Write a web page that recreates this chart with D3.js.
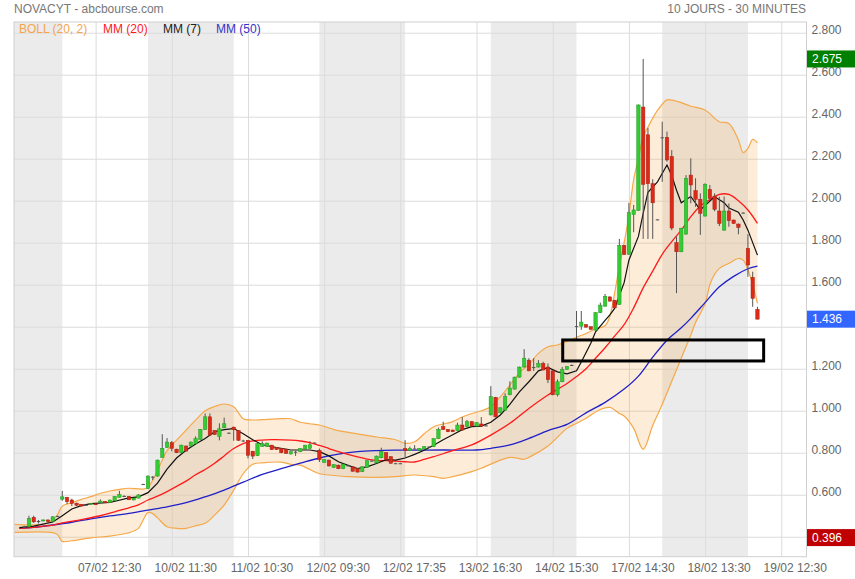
<!DOCTYPE html>
<html><head><meta charset="utf-8">
<script src="https://cdn.jsdelivr.net/npm/d3@7"></script>
<style>body{margin:0;background:#fff;} svg text{font-family:"Liberation Sans",Arial,sans-serif;}</style>
</head><body><svg id="c" width="855" height="579"></svg>
<script>
// ---------- DATA ----------
const dayLabels = ["06/02","07/02","10/02","11/02","12/02","13/02","14/02","17/02","18/02","19/02"];
const slotTimes = ["09:00","09:30","10:00","10:30","11:00","11:30","12:00","12:30","13:00","13:30","14:00","14:30","15:00","15:30","16:00","16:30","17:00","17:35"];
const firstBarSlot = 8; // first bar of 06/02 is the 13:00 slot
const tickBars = [17,33,49,65,81,97,113,129,145,161];
const tickLabels = ["07/02 12:30","10/02 11:30","11/02 10:30","12/02 09:30","12/02 17:35","13/02 16:30","14/02 15:30","17/02 14:30","18/02 13:30","19/02 12:30"];
const yTicks = [0.4,0.6,0.8,1.0,1.2,1.4,1.6,1.8,2.0,2.2,2.4,2.6,2.8];

const open = [null,null,0.448,0.448,0.492,0.475,0.475,0.480,0.473,0.499,
0.579,0.588,0.575,0.560,0.554,0.552,0.554,0.557,0.562,0.568,
0.564,0.571,0.588,0.594,0.592,0.575,0.584,0.651,0.630,0.686,
0.689,0.778,0.825,0.848,0.817,0.800,0.832,0.832,0.843,0.864,
0.911,0.971,0.906,0.878,0.919,0.895,0.922,0.906,0.858,0.859,
0.807,0.786,0.830,0.830,0.836,0.825,0.820,0.817,0.794,0.805,
0.805,0.818,0.821,0.848,0.811,0.754,0.765,0.730,0.741,0.724,
0.740,0.733,0.724,0.710,0.730,0.762,0.752,0.776,0.800,0.781,
0.750,0.750,0.820,0.810,0.820,0.812,0.818,0.829,0.829,0.867,
0.924,0.911,0.908,0.905,0.932,0.924,0.948,0.927,0.937,0.930,
0.980,1.064,0.990,1.003,1.076,1.103,1.160,1.208,1.241,1.208,
1.208,1.225,1.208,1.190,1.076,1.138,1.197,1.218,1.403,1.403,
1.410,1.400,1.384,1.467,1.498,1.542,1.526,1.506,1.787,1.745,
1.935,1.954,2.446,2.314,2.081,1.911,2.302,2.302,2.210,1.800,
1.757,1.841,2.122,2.048,2.007,1.927,2.054,2.022,1.951,1.860,
1.951,1.908,1.889,1.943,1.773,1.635,1.483];
const high = [null,null,0.452,0.500,0.500,0.480,0.482,0.482,0.497,0.500,
0.618,0.590,0.581,0.562,0.556,0.554,0.560,0.558,0.578,0.569,
0.576,0.593,0.619,0.598,0.593,0.585,0.603,0.652,0.692,0.689,
0.767,0.888,0.870,0.856,0.819,0.838,0.834,0.853,0.878,0.913,
0.987,0.987,0.908,0.940,0.967,0.897,0.924,0.908,0.862,0.861,
0.809,0.845,0.855,0.848,0.838,0.827,0.822,0.819,0.807,0.810,
0.822,0.838,0.855,0.850,0.820,0.769,0.767,0.745,0.743,0.748,
0.744,0.735,0.726,0.735,0.764,0.764,0.786,0.824,0.802,0.783,
0.752,0.752,0.860,0.829,0.836,0.822,0.831,0.831,0.869,0.920,
0.948,0.913,0.910,0.943,0.970,0.956,0.950,0.945,0.970,0.932,
1.117,1.066,1.016,1.083,1.140,1.162,1.210,1.293,1.250,1.250,
1.241,1.233,1.225,1.192,1.149,1.208,1.212,1.220,1.475,1.475,
1.412,1.402,1.469,1.515,1.556,1.544,1.528,1.818,1.789,1.990,
1.980,2.458,2.675,2.347,2.102,1.913,2.376,2.329,2.241,1.830,
1.871,2.122,2.202,2.107,2.035,2.083,2.075,2.035,2.019,2.020,
1.987,1.910,1.891,1.945,1.841,1.662,1.495];
const low = [null,null,0.444,0.445,0.466,0.463,0.473,0.470,0.472,0.498,
0.571,0.556,0.546,0.547,0.546,0.550,0.553,0.553,0.561,0.561,
0.563,0.570,0.587,0.593,0.575,0.574,0.583,0.650,0.628,0.670,
0.686,0.776,0.823,0.807,0.798,0.798,0.806,0.830,0.841,0.862,
0.909,0.882,0.885,0.859,0.917,0.893,0.857,0.857,0.852,0.773,
0.770,0.784,0.828,0.828,0.813,0.813,0.798,0.795,0.792,0.785,
0.803,0.816,0.819,0.846,0.756,0.752,0.735,0.728,0.722,0.722,
0.736,0.710,0.706,0.708,0.728,0.760,0.750,0.774,0.765,0.748,
0.748,0.748,0.775,0.808,0.818,0.810,0.816,0.827,0.827,0.865,
0.909,0.898,0.898,0.903,0.906,0.922,0.925,0.925,0.925,0.928,
0.978,0.969,0.988,1.001,1.074,1.101,1.158,1.206,1.188,1.190,
1.206,1.192,1.132,1.074,1.068,1.136,1.195,1.216,1.340,1.385,
1.396,1.386,1.382,1.465,1.496,1.520,1.488,1.504,1.742,1.743,
1.850,1.952,1.818,1.818,1.818,1.909,2.090,2.186,1.860,1.560,
1.755,1.839,1.988,1.971,1.837,1.925,2.009,1.950,1.879,1.858,
1.876,1.890,1.840,1.941,1.638,1.495,1.436];
const close = [null,null,0.448,0.488,0.471,0.475,0.480,0.472,0.495,0.499,
0.590,0.567,0.559,0.550,0.546,0.552,0.559,0.554,0.570,0.562,
0.575,0.592,0.600,0.594,0.576,0.584,0.599,0.651,0.689,0.686,
0.765,0.821,0.851,0.821,0.800,0.836,0.808,0.851,0.867,0.911,
0.971,0.884,0.887,0.914,0.938,0.895,0.911,0.859,0.858,0.788,
0.784,0.843,0.843,0.846,0.815,0.815,0.800,0.797,0.805,0.805,
0.820,0.836,0.838,0.848,0.767,0.767,0.737,0.743,0.724,0.746,
0.740,0.712,0.708,0.733,0.762,0.762,0.784,0.805,0.767,0.750,
0.750,0.750,0.810,0.820,0.820,0.820,0.829,0.829,0.867,0.911,
0.911,0.900,0.900,0.932,0.908,0.948,0.927,0.943,0.927,0.930,
1.067,0.971,1.014,1.067,1.108,1.160,1.208,1.250,1.190,1.208,
1.225,1.194,1.148,1.076,1.138,1.197,1.210,1.218,1.403,1.422,
1.398,1.388,1.467,1.503,1.545,1.522,1.490,1.787,1.744,1.943,
1.956,2.456,2.078,2.081,1.990,1.911,2.302,2.194,1.870,1.757,
1.869,2.107,2.075,2.007,1.940,2.078,2.011,1.959,1.892,1.951,
1.905,1.892,1.873,1.943,1.694,1.535,1.436];

// indicator values: [bar index, value]
const mm7 = [[1,0.443],[4,0.451],[8,0.47],[10,0.50],[12,0.532],[14,0.548],[16,0.558],[20,0.563],[24,0.585],[26,0.59],[28,0.61],[30,0.655],[32,0.722],[34,0.775],[36,0.812],[38,0.842],[40,0.868],[42,0.9],[44,0.91],[46,0.915],[48,0.89],[50,0.862],[52,0.838],[55,0.825],[58,0.813],[62,0.813],[64,0.805],[66,0.785],[68,0.757],[70,0.74],[72,0.725],[74,0.733],[76,0.749],[78,0.767],[80,0.765],[82,0.775],[84,0.792],[86,0.812],[88,0.836],[90,0.862],[92,0.886],[94,0.91],[96,0.924],[98,0.927],[100,0.945],[102,0.98],[104,1.03],[106,1.09],[108,1.138],[110,1.19],[112,1.206],[114,1.185],[116,1.176],[118,1.19],[119,1.232],[121,1.321],[122,1.376],[124,1.43],[125,1.456],[126,1.487],[128,1.61],[129,1.717],[131,1.83],[132,1.94],[133,2.04],[135,2.09],[137,2.17],[138,2.12],[139,2.05],[140,1.99],[142,2.02],[144,1.956],[147,2.019],[149,1.99],[150,1.965],[152,1.945],[153,1.908],[154,1.86],[156,1.741]];
const mm20 = [[1,0.44],[4,0.445],[8,0.455],[10,0.466],[14,0.482],[18,0.5],[21,0.519],[24,0.538],[26,0.552],[28,0.575],[30,0.593],[32,0.615],[34,0.64],[36,0.665],[38,0.695],[40,0.72],[42,0.75],[44,0.785],[46,0.82],[48,0.843],[50,0.856],[54,0.862],[58,0.86],[60,0.856],[62,0.848],[64,0.835],[66,0.82],[68,0.805],[70,0.792],[72,0.78],[74,0.77],[76,0.764],[78,0.762],[80,0.76],[82,0.757],[84,0.756],[86,0.768],[88,0.781],[92,0.81],[96,0.837],[100,0.884],[104,0.94],[108,1.011],[112,1.075],[116,1.13],[118,1.163],[120,1.2],[122,1.25],[124,1.30],[126,1.355],[128,1.41],[130,1.49],[132,1.585],[134,1.665],[136,1.745],[138,1.805],[140,1.86],[142,1.924],[144,1.975],[146,2.005],[148,2.03],[150,2.03],[152,2.0],[154,1.956],[156,1.892]];
const mm50 = [[1,0.44],[4,0.445],[8,0.456],[12,0.469],[16,0.485],[20,0.499],[24,0.511],[28,0.527],[32,0.542],[36,0.562],[40,0.59],[44,0.622],[48,0.66],[52,0.697],[56,0.724],[60,0.75],[64,0.775],[68,0.793],[72,0.805],[76,0.81],[80,0.812],[90,0.813],[97,0.813],[100,0.821],[104,0.837],[108,0.868],[112,0.905],[116,0.935],[120,0.99],[124,1.04],[128,1.103],[131,1.165],[134,1.255],[137,1.336],[140,1.395],[142,1.44],[145,1.515],[148,1.59],[151,1.64],[154,1.676],[156,1.689]];
const bollUp = [[0,0.459],[6,0.46],[8,0.48],[9,0.505],[10,0.546],[12,0.562],[14,0.578],[16,0.591],[18,0.607],[20,0.618],[22,0.626],[24,0.631],[27,0.627],[28,0.635],[29,0.67],[30,0.715],[31,0.765],[32,0.81],[34,0.86],[36,0.908],[38,0.955],[40,1.0],[42,1.02],[44,1.032],[46,1.019],[47,0.99],[48,0.962],[50,0.956],[52,0.958],[56,0.962],[58,0.962],[60,0.945],[62,0.938],[64,0.932],[68,0.905],[72,0.89],[76,0.875],[80,0.862],[82,0.845],[84,0.852],[86,0.89],[88,0.924],[92,0.948],[94,0.97],[96,0.987],[98,1.0],[100,1.019],[102,1.067],[104,1.122],[106,1.18],[107,1.202],[108,1.22],[110,1.273],[112,1.305],[114,1.313],[116,1.33],[118,1.35],[120,1.368],[122,1.39],[124,1.405],[125,1.45],[126,1.56],[127,1.69],[128,1.8],[129,1.93],[130,2.1],[131,2.2],[132,2.305],[133,2.35],[135,2.43],[137,2.48],[138,2.479],[140,2.467],[142,2.45],[145,2.432],[148,2.376],[150,2.368],[152,2.289],[153,2.229],[154,2.249],[155,2.292],[156,2.276]];
const bollLow = [[0,0.421],[8,0.42],[9,0.41],[10,0.378],[12,0.381],[16,0.395],[20,0.403],[24,0.419],[26,0.44],[27,0.48],[28,0.515],[29,0.51],[30,0.49],[32,0.448],[34,0.44],[36,0.44],[38,0.452],[40,0.464],[42,0.503],[44,0.551],[46,0.622],[48,0.7],[50,0.745],[52,0.752],[56,0.755],[58,0.745],[60,0.741],[62,0.72],[64,0.7],[66,0.694],[70,0.686],[76,0.683],[80,0.686],[84,0.694],[88,0.686],[90,0.678],[92,0.686],[96,0.71],[98,0.726],[100,0.746],[104,0.778],[107,0.769],[108,0.778],[112,0.832],[116,0.916],[118,0.94],[120,0.964],[123,1.006],[125,1.016],[127,0.987],[128,0.975],[130,0.916],[132,0.816],[134,0.93],[136,1.03],[138,1.14],[140,1.25],[142,1.36],[143,1.42],[145,1.511],[146,1.6],[147,1.65],[148,1.678],[150,1.702],[152,1.725],[153,1.717],[154,1.67],[155,1.6],[156,1.511]];

const priceTags = [2.675, 1.436, 0.396];
const tagColors = ["#008000", "#3366ff", "#c00000"];
const boxBars = [115.1, 157.3];
const boxVals = [1.237, 1.337];

// ---------- CHART ----------
const plot = {left:14, right:806.5, top:22, bottom:556.7};
const x = d3.scaleLinear().domain([-0.14, 166.3]).range([plot.left, plot.right]);
const y = d3.scaleLinear().domain([0.305, 2.851]).range([plot.bottom, plot.top]);
const svg = d3.select("#c");

svg.append("defs").append("clipPath").attr("id","clip")
  .append("rect").attr("x",plot.left).attr("y",plot.top)
  .attr("width",plot.right-plot.left).attr("height",plot.bottom-plot.top);

// alternate day shading
const barsPerDay = slotTimes.length;
dayLabels.forEach((d,k)=>{
  if(k%2!==0) return;
  const s = k*barsPerDay - firstBarSlot;
  const x0 = Math.max(plot.left, x(s)), x1 = Math.min(plot.right, x(s+barsPerDay));
  svg.append("rect").attr("x",x0).attr("y",plot.top).attr("width",x1-x0)
    .attr("height",plot.bottom-plot.top).attr("fill","#ebebeb");
});

// tick labels fully hidden under a price tag are not drawn (as in the original)
const hidden = v => priceTags.slice(1).some(p => Math.abs(y(p) - (y(v)-3)) < 6);

// grid via axes
const gy = svg.append("g").attr("transform",`translate(${plot.right},0)`)
  .call(d3.axisRight(y).tickValues(yTicks).tickSize(-(plot.right-plot.left)).tickPadding(5)
    .tickFormat(v => hidden(v) ? "" : d3.format(".3f")(v)));
gy.select(".domain").remove();
gy.selectAll("line").attr("stroke","#dcdcdc");
gy.selectAll("text").attr("fill","#666").attr("font-size",12).attr("y",-3);

const gx = svg.append("g").attr("transform",`translate(0,${plot.bottom})`)
  .call(d3.axisBottom(x).tickValues(tickBars).tickSize(-(plot.bottom-plot.top)).tickPadding(7).tickFormat((d,i)=>tickLabels[i]));
gx.select(".domain").remove();
gx.selectAll("line").attr("stroke","#dcdcdc");
gx.selectAll("text").attr("fill","#666").attr("font-size",12).attr("dx",13.5);

// frame
svg.append("rect").attr("x",plot.left).attr("y",plot.top).attr("width",plot.right-plot.left)
  .attr("height",plot.bottom-plot.top).attr("fill","none").attr("stroke","#d0d0d0");

const g = svg.append("g").attr("clip-path","url(#clip)");
const smooth = d3.line().x(d=>x(d[0])).y(d=>y(d[1])).curve(d3.curveCatmullRom);
const straight = d3.line().x(d=>x(d[0])).y(d=>y(d[1]));

// Bollinger fill
const upPath = smooth(bollUp);
const lowRev = smooth(bollLow.slice().reverse()).replace(/^M/,"L");
g.append("path").attr("d", upPath + lowRev + "Z").attr("fill","rgba(240,160,60,0.2)").attr("stroke","none");
g.append("path").attr("d", smooth(bollUp)).attr("fill","none").attr("stroke","#f5a94a").attr("stroke-width",1.2);
g.append("path").attr("d", smooth(bollLow)).attr("fill","none").attr("stroke","#f5a94a").attr("stroke-width",1.2);

g.append("path").attr("d", smooth(mm50)).attr("fill","none").attr("stroke","#2020c8").attr("stroke-width",1.3);
g.append("path").attr("d", smooth(mm20)).attr("fill","none").attr("stroke","#ff1a1a").attr("stroke-width",1.3);
g.append("path").attr("d", straight(mm7)).attr("fill","none").attr("stroke","#111").attr("stroke-width",1.2);

// candles
const bars = d3.range(open.length).filter(i=>open[i]!==null)
  .map(i=>({i, o:open[i], h:high[i], l:low[i], c:close[i]}));
const cg = g.append("g");
cg.selectAll("line.wick").data(bars).join("line").attr("class","wick")
  .attr("x1",d=>x(d.i)).attr("x2",d=>x(d.i)).attr("y1",d=>y(d.h)).attr("y2",d=>y(d.l))
  .attr("stroke","#555").attr("stroke-width",1);
cg.selectAll("rect.body").data(bars).join("rect").attr("class","body")
  .attr("x",d=>x(d.i)-1.7).attr("width",3.4)
  .attr("y",d=>y(Math.max(d.o,d.c)))
  .attr("height",d=>Math.max(1, Math.abs(y(d.o)-y(d.c))))
  .attr("fill",d=>d.c>d.o?"#33cc33":(d.c<d.o?"#dd2a18":"#555"))
  .attr("stroke",d=>d.c>d.o?"#229922":(d.c<d.o?"#a81e10":"none"))
  .attr("stroke-width",0.5);

// annotation box
svg.append("rect").attr("x",x(boxBars[0])).attr("y",y(boxVals[1]))
  .attr("width",x(boxBars[1])-x(boxBars[0])).attr("height",y(boxVals[0])-y(boxVals[1]))
  .attr("fill","none").attr("stroke","#000").attr("stroke-width",3);

// price tags
priceTags.forEach((v,k)=>{
  svg.append("rect").attr("x",807).attr("y",y(v)-8.5).attr("width",48).attr("height",17).attr("fill",tagColors[k]);
  svg.append("text").attr("x",812).attr("y",y(v)).attr("dy","0.35em").attr("fill","#fff")
    .attr("font-size",12).text(d3.format(".3f")(v));
});

// titles & legend
svg.append("text").attr("x",14).attr("y",9).attr("dy","0.35em").attr("font-size",12).attr("fill","#777").text("NOVACYT - abcbourse.com");
svg.append("text").attr("x",806).attr("y",9).attr("dy","0.35em").attr("text-anchor","end").attr("font-size",12).attr("fill","#777").text("10 JOURS - 30 MINUTES");
const legend = [["BOLL (20, 2)","#f5a54a",19],["MM (20)","#ff1a1a",103],["MM (7)","#222",163],["MM (50)","#3333cc",216]];
legend.forEach(([t,c,lx])=>svg.append("text").attr("x",lx).attr("y",29).attr("dy","0.35em").attr("font-size",12).attr("fill",c).text(t));
</script></body></html>
